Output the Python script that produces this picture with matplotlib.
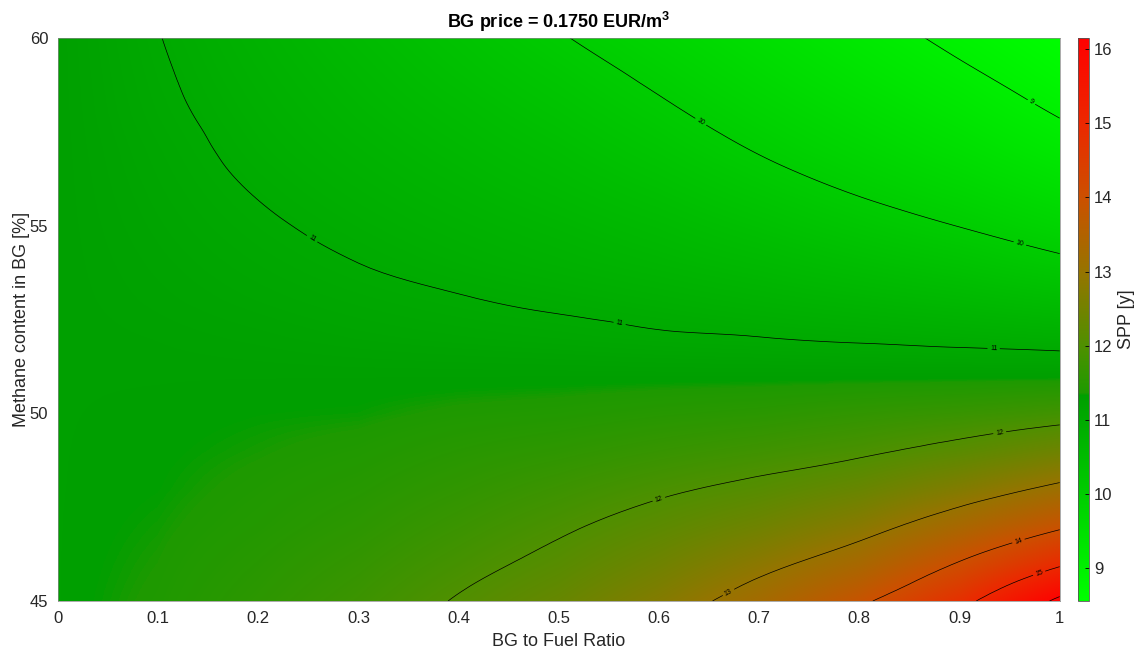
#### Pre-Amble ####
import numpy as np
import matplotlib.pyplot as plt
import matplotlib.tri as mtri
from matplotlib.colors import LinearSegmentedColormap, Normalize

plt.rcParams['font.family'] = ['Liberation Sans', 'DejaVu Sans']
plt.rcParams['mathtext.fontset'] = 'custom'
plt.rcParams['mathtext.rm'] = 'Liberation Sans'
plt.rcParams['mathtext.bf'] = 'Liberation Sans:bold'

#### Data (SPP [y]) ####
ratio = [0.0, 0.1, 0.2, 0.3, 0.4, 0.5, 0.6, 0.7, 0.8, 0.9, 1.0]
methane = [45, 46, 47, 48, 49, 50, 51, 52, 53, 54, 55, 56, 57, 58, 59, 60]

spp_45 = [11.30, 11.39, 11.56, 11.76, 12.03, 12.33, 12.74, 13.25, 13.90, 14.80, 16.15]
spp_46 = [11.30, 11.37, 11.50, 11.66, 11.88, 12.12, 12.45, 12.85, 13.32, 14.04, 14.90]
spp_47 = [11.30, 11.35, 11.44, 11.56, 11.74, 11.94, 12.18, 12.45, 12.80, 13.33, 13.91]
spp_48 = [11.30, 11.33, 11.40, 11.48, 11.61, 11.76, 11.93, 12.10, 12.34, 12.70, 13.11]
spp_49 = [11.30, 11.32, 11.36, 11.41, 11.50, 11.58, 11.69, 11.80, 11.93, 12.15, 12.43]
spp_50 = [11.30, 11.31, 11.33, 11.34, 11.39, 11.42, 11.48, 11.53, 11.62, 11.70, 11.82]
spp_51 = [11.30, 11.30, 11.30, 11.30, 11.30, 11.30, 11.30, 11.30, 11.30, 11.30, 11.30]
spp_52 = [11.30, 11.27, 11.23, 11.18, 11.14, 11.10, 11.05, 11.01, 10.96, 10.91, 10.86]
spp_53 = [11.30, 11.23, 11.16, 11.09, 11.02, 10.95, 10.87, 10.78, 10.69, 10.59, 10.47]
spp_54 = [11.30, 11.20, 11.10, 11.00, 10.90, 10.80, 10.69, 10.57, 10.43, 10.28, 10.09]
spp_55 = [11.30, 11.17, 11.04, 10.92, 10.80, 10.68, 10.54, 10.37, 10.18, 9.99, 9.76]
spp_56 = [11.30, 11.14, 10.98, 10.84, 10.70, 10.55, 10.38, 10.17, 9.95, 9.73, 9.47]
spp_57 = [11.30, 11.11, 10.92, 10.76, 10.60, 10.43, 10.22, 9.98, 9.74, 9.49, 9.20]
spp_58 = [11.30, 11.07, 10.87, 10.68, 10.50, 10.30, 10.07, 9.81, 9.55, 9.28, 8.97]
spp_59 = [11.30, 11.04, 10.82, 10.61, 10.39, 10.17, 9.92, 9.64, 9.36, 9.08, 8.77]
spp_60 = [11.30, 11.01, 10.77, 10.53, 10.29, 10.03, 9.76, 9.48, 9.19, 8.90, 8.60]

spp_rows = [spp_45, spp_46, spp_47, spp_48, spp_49, spp_50, spp_51, spp_52,
            spp_53, spp_54, spp_55, spp_56, spp_57, spp_58, spp_59, spp_60]

contour_levels = [9, 10, 11, 12, 13, 14, 15, 16]
cbar_ticks = [9, 10, 11, 12, 13, 14, 15, 16]
x_ticks = [0, 0.1, 0.2, 0.3, 0.4, 0.5, 0.6, 0.7, 0.8, 0.9, 1]
x_ticklabels = ['0', '0.1', '0.2', '0.3', '0.4', '0.5', '0.6', '0.7', '0.8', '0.9', '1']
y_ticks = [45, 50, 55, 60]

#### Colormap: bright green -> dark green | olive -> red ####
c_min, c_max = 8.56, 16.15
cmap_values = [8.56, 11.33, 11.37, 12.0, 13.0, 14.0, 15.0, 16.15]
cmap_colors = ['#00ff00', '#009f00', '#1e9a00', '#4f9000', '#967400', '#cc5000', '#ec2800', '#ff0000']
nodes = [(v - c_min) / (c_max - c_min) for v in cmap_values]
cmap = LinearSegmentedColormap.from_list('spp', list(zip(nodes, cmap_colors)), N=1024)
norm = Normalize(vmin=c_min, vmax=c_max)

Z = np.array(spp_rows)
X, Y = np.meshgrid(ratio, methane)

fig = plt.figure(figsize=(11.37, 6.51), dpi=100)
ax = fig.add_axes([0.051, 0.0768, 0.881, 0.865])
cax = fig.add_axes([0.948, 0.0768, 0.0097, 0.865])

#### Shaded field ####
dx = ratio[1] - ratio[0]
dy = methane[1] - methane[0]
im = ax.imshow(Z, origin='lower', aspect='auto', cmap=cmap, norm=norm,
               extent=[ratio[0] - dx/2, ratio[-1] + dx/2, methane[0] - dy/2, methane[-1] + dy/2],
               interpolation='bilinear', interpolation_stage='data')

#### Contour lines (smoothed by matplotlib's tri refiner) ####
tri = mtri.Triangulation(X.ravel(), (Y.ravel() - 45) / 15)
interp = mtri.CubicTriInterpolator(tri, Z.ravel(), kind='min_E')
tri_f, z_f = mtri.UniformTriRefiner(tri).refine_field(Z.ravel(), triinterpolator=interp, subdiv=3)
tri_f = mtri.Triangulation(tri_f.x, tri_f.y * 15 + 45, tri_f.triangles)
cs = ax.tricontour(tri_f, z_f, levels=contour_levels, colors='k', linewidths=0.5)
label_pos = [(0.972, 58.3), (0.64, 57.7), (0.96, 54.5), (0.25, 54.5), (0.56, 52.3),
             (0.934, 51.66), (0.60, 47.7), (0.94, 49.5), (0.67, 45.2), (0.96, 46.5),
             (0.98, 45.7)]
ax.clabel(cs, fmt='%d', fontsize=5, inline=True, inline_spacing=2, manual=label_pos)

#### Plot properties ####
txt = '#262626'
ax.set_xlim(0, 1)
ax.set_ylim(45, 60)
ax.set_xticks(x_ticks)
ax.set_xticklabels(x_ticklabels)
ax.set_yticks(y_ticks)
ax.tick_params(direction='in', labelsize=12, length=0, pad=7, labelcolor=txt)
ax.set_xlabel('BG to Fuel Ratio', fontsize=13, color=txt, labelpad=5)
ax.set_ylabel('Methane content in BG [%]', fontsize=13, color=txt, labelpad=0)
ax.set_title('BG price = 0.1750 EUR/m$^{\\mathbf{3}}$', fontsize=13, fontweight='bold', pad=7)
for s in ax.spines.values():
    s.set_linewidth(0.5)
    s.set_color('#888888')

cb = fig.colorbar(im, cax=cax, ticks=cbar_ticks)
cb.outline.set_linewidth(0.6)
cb.outline.set_edgecolor('#555555')
cax.tick_params(direction='in', labelsize=12, length=3, width=0.6, labelcolor=txt)
cax.set_ylabel('SPP [y]', fontsize=13, color=txt)

fig.savefig('out.png', dpi=100)
